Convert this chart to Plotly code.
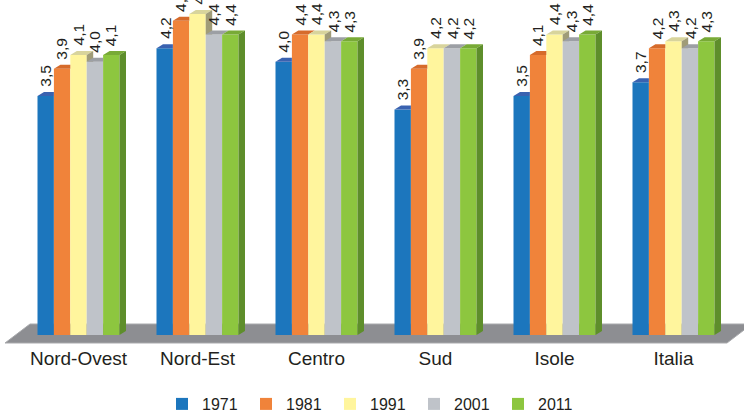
import plotly.graph_objects as go

categories = ["Nord-Ovest", "Nord-Est", "Centro", "Sud", "Isole", "Italia"]
years = ["1971", "1981", "1991", "2001", "2011"]
v1971 = [3.5, 4.2, 4.0, 3.3, 3.5, 3.7]
v1981 = [3.9, 4.6, 4.4, 3.9, 4.1, 4.2]
v1991 = [4.1, 4.7, 4.4, 4.2, 4.4, 4.3]
v2001 = [4.0, 4.4, 4.3, 4.2, 4.3, 4.2]
v2011 = [4.1, 4.4, 4.3, 4.2, 4.4, 4.3]
series = [v1971, v1981, v1991, v2001, v2011]

front_colors = ["#1c76bd", "#f0833a", "#fff59d", "#bfc3c9", "#8dc63f"]
top_colors = ["#3a62b0", "#d66b2b", "#d8d49c", "#9c9fa4", "#78aa36"]
side_colors = ["#2c5b9c", "#c0622a", "#a09c78", "#8f9297", "#5e8e2b"]

W, H = 744, 413
ML, MR, MT, MB = 19, 11, 0, 78
YMAX = 4.905
plot_w = W - ML - MR
plot_h = H - MT - MB

group_w = 0.689
bw = group_w / len(years)
dx = 6.5 / (plot_w / 6.0)
dy = 4.0 / (plot_h / YMAX)

fig = go.Figure()
xs = list(range(len(categories)))

for j, (yr, vals) in enumerate(zip(years, series)):
    fig.add_trace(go.Bar(
        x=xs, y=vals, name=yr,
        offset=-group_w / 2 + j * bw, width=bw,
        marker=dict(color=front_colors[j], line=dict(width=0)),
        hoverinfo="skip",
    ))

# pseudo-3D faces, derived from the data values
for i in xs:
    for j in range(len(years)):
        h = series[j][i]
        x0 = i - group_w / 2 + j * bw
        x1 = x0 + bw
        h_next = series[j + 1][i] if j + 1 < len(years) else None
        if h_next is not None and h_next > h:
            tx = [x0, x1, x1, x0 + dx, x0]
        else:
            tx = [x0, x1, x1 + dx, x0 + dx, x0]
        ty = [h, h, h + dy, h + dy, h]
        fig.add_trace(go.Scatter(x=tx, y=ty, mode="lines", fill="toself",
                                 fillcolor=top_colors[j], line=dict(width=0),
                                 hoverinfo="skip", showlegend=False))
        sx = None
        if h_next is None:
            sx = [x1, x1, x1 + dx, x1 + dx, x1]
            sy = [0.0, h, h + dy, dy, 0.0]
        elif h_next < h:
            sx = [x1, x1, x1 + dx, x1 + dx, x1]
            sy = [h_next, h, h + dy, h_next, h_next]
        if sx is not None:
            fig.add_trace(go.Scatter(x=sx, y=sy, mode="lines", fill="toself",
                                     fillcolor=side_colors[j], line=dict(width=0),
                                     hoverinfo="skip", showlegend=False))

# value labels
for i in xs:
    for j in range(len(years)):
        h = series[j][i]
        fig.add_annotation(
            x=i - group_w / 2 + j * bw + bw / 2, y=h,
            text=f"{h:.1f}".replace(".", ","),
            textangle=-90, showarrow=False,
            xanchor="center", yanchor="bottom", yshift=7,
            font=dict(family="Liberation Sans, Arial, sans-serif", size=15.5, color="#231f20"),
        )

# floor
def px_to_paper(px, py):
    return (px - ML) / plot_w, (H - MB - py) / plot_h

pts = [px_to_paper(30, 324), px_to_paper(752, 324), px_to_paper(727, 343), px_to_paper(5, 343)]
path = "M " + " L ".join(f"{a:.4f},{b:.4f}" for a, b in pts) + " Z"
fig.add_shape(type="path", path=path, xref="paper", yref="paper",
              fillcolor="#8d8e92", line=dict(color="#a9aaad", width=1), layer="below")

fig.update_layout(
    width=W, height=H,
    margin=dict(l=ML, r=MR, t=MT, b=MB, pad=0, autoexpand=False),
    paper_bgcolor="white", plot_bgcolor="rgba(0,0,0,0)",
    barmode="overlay",
    font=dict(family="Liberation Sans, Arial, sans-serif", color="#231f20"),
    xaxis=dict(range=[-0.5, 5.5], tickvals=xs, ticktext=categories,
               showgrid=False, zeroline=False, showline=False, ticks="",
               tickfont=dict(size=19, color="#231f20"), ticklabelstandoff=10,
               fixedrange=True, automargin=False),
    yaxis=dict(range=[0, YMAX], visible=False, fixedrange=True),
    legend=dict(orientation="h", xref="container", x=162 / W, xanchor="left",
                yref="container", y=(H - 404) / H, yanchor="middle",
                font=dict(size=16, color="#231f20"), entrywidth=39,
                entrywidthmode="pixels", bgcolor="rgba(0,0,0,0)", traceorder="normal"),
    showlegend=True,
)

fig.write_html("out.html")
